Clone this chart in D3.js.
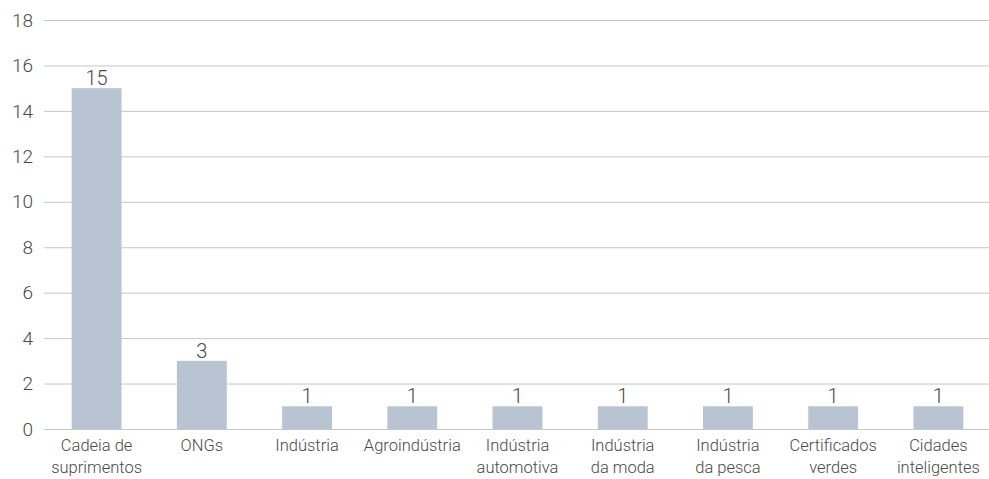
<!DOCTYPE html>
<html>
<head>
<meta charset="utf-8">
<script src="https://cdn.jsdelivr.net/npm/d3@7"></script>
<style>
  body { margin: 0; background: #fff; }
  text { font-family: Roboto, "Open Sans", sans-serif; font-weight: 300; fill: #4a4a4a; }
</style>
</head>
<body>
<div id="chart"></div>
<script>
// Data
var categories = [
    ["Cadeia de", "suprimentos"],
    ["ONGs"],
    ["Indústria"],
    ["Agroindústria"],
    ["Indústria", "automotiva"],
    ["Indústria", "da moda"],
    ["Indústria", "da pesca"],
    ["Certificados", "verdes"],
    ["Cidades", "inteligentes"]
];
var values = [15, 3, 1, 1, 1, 1, 1, 1, 1];
var yTicks = [0, 2, 4, 6, 8, 10, 12, 14, 16, 18];

var W = 989, H = 479;
var margin = {top: 20, right: 0, bottom: 50, left: 44};
var height = 429 - margin.top;

var svg = d3.select("#chart")
    .append("svg")
        .attr("width", W)
        .attr("height", H)
    .append("g")
        .attr("transform", "translate(" + margin.left + "," + margin.top + ")");

var keys = categories.map((d, i) => i);

// X scale
var x = d3.scaleBand()
    .domain(keys)
    .range([0, 947])
    .paddingInner(0.526)
    .paddingOuter(0.263);

// Y scale
var y = d3.scaleLinear()
    .domain([0, 18])
    .range([height, 0]);

// Gridlines
svg.append("g")
    .selectAll("line")
    .data(yTicks)
    .enter().append("line")
    .attr("x1", 0)
    .attr("x2", W - margin.left)
    .attr("y1", d => y(d) + 0.5)
    .attr("y2", d => y(d) + 0.5)
    .attr("stroke", "#c6c6c6")
    .attr("stroke-width", 1);

// Y tick labels
svg.append("g")
    .selectAll("text")
    .data(yTicks)
    .enter().append("text")
    .attr("x", -11)
    .attr("y", d => y(d))
    .attr("dy", "0.35em")
    .attr("text-anchor", "end")
    .style("font-size", "19px")
    .text(d => d);

// Bars
svg.append("g")
    .selectAll("rect")
    .data(values)
    .enter().append("rect")
    .attr("x", (d, i) => x(i))
    .attr("y", d => y(d))
    .attr("width", x.bandwidth())
    .attr("height", d => height - y(d))
    .attr("fill", "#b9c4d3");

// Value labels
svg.append("g")
    .selectAll("text")
    .data(values)
    .enter().append("text")
    .attr("x", (d, i) => x(i) + x.bandwidth() / 2)
    .attr("y", d => y(d) - 3)
    .attr("text-anchor", "middle")
    .style("font-size", "20px")
    .text(d => d);

// Category labels
var cat = svg.append("g")
    .selectAll("text")
    .data(categories)
    .enter().append("text")
    .attr("x", (d, i) => x(i) + x.bandwidth() / 2)
    .attr("y", height + 22)
    .attr("text-anchor", "middle")
    .style("font-size", "16.5px");

cat.selectAll("tspan")
    .data(d => d)
    .enter().append("tspan")
    .attr("x", function() { return d3.select(this.parentNode).attr("x"); })
    .attr("dy", (d, i) => i === 0 ? 0 : 22)
    .text(d => d);
</script>
</body>
</html>
